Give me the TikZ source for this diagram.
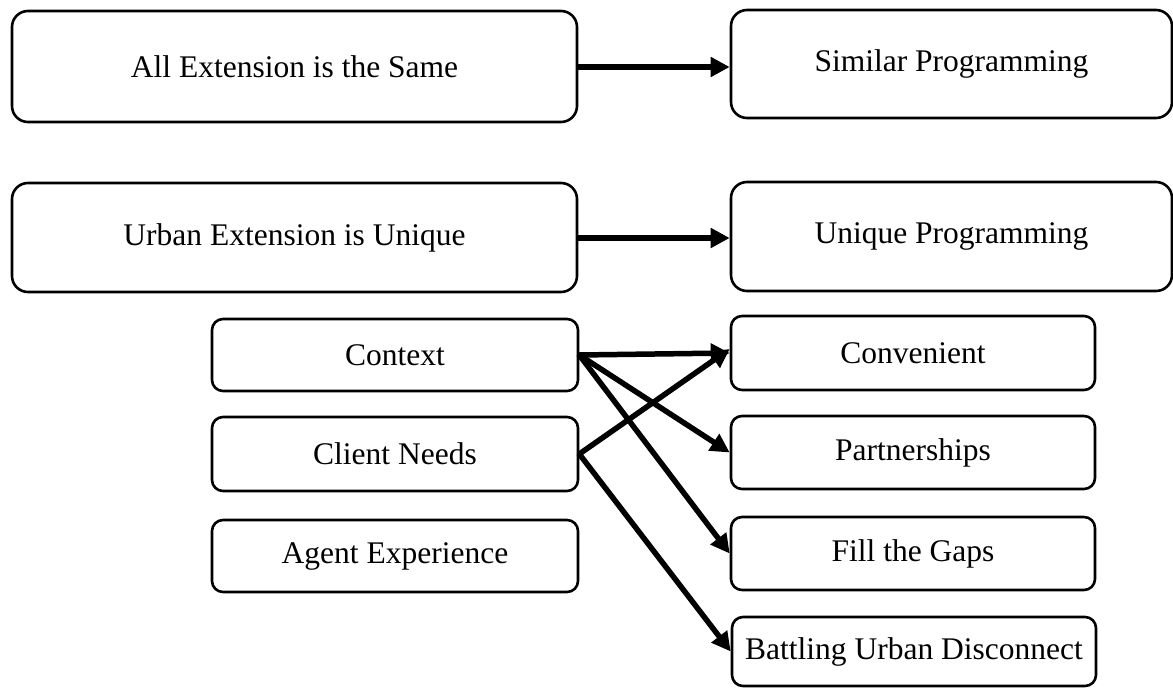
\documentclass[tikz,border=0pt]{standalone}
\usepackage{fontspec}
\setmainfont{Liberation Serif}
\usetikzlibrary{arrows.meta}
\begin{document}
\begin{tikzpicture}[x=1pt,y=-1pt,
  bigbox/.style={draw, line width=2.6pt, rounded corners=16pt, inner sep=0pt, font=\fontsize{31.5}{36}\selectfont},
  smallbox/.style={draw, line width=2.6pt, rounded corners=11pt, inner sep=0pt, font=\fontsize{31.5}{36}\selectfont},
  link/.style={line width=5.5pt, -{Triangle[length=19pt,width=19pt]}, shorten <=-1pt}
]
\fill[white] (0,0) rectangle (1173,688);
\useasboundingbox (0,0) rectangle (1173,688);
% big boxes
\node[bigbox, minimum width=565pt, minimum height=111pt] (all) at (294.5,66.5) {All Extension is the Same};
\node[bigbox, minimum width=441pt, minimum height=108pt] (sim) at (951.5,64) {Similar Programming};
\node[bigbox, minimum width=565pt, minimum height=109pt] (urb) at (294.5,237.5) {Urban Extension is Unique};
\node[bigbox, minimum width=441pt, minimum height=109pt] (uni) at (951.5,236.5) {Unique Programming};
% small left boxes
\node[smallbox, minimum width=366pt, minimum height=72pt] (ctx) at (395,355) {Context};
\node[smallbox, minimum width=366pt, minimum height=74pt] (cli) at (395,454) {Client Needs};
\node[smallbox, minimum width=366pt, minimum height=72pt] (age) at (395,556) {Agent Experience};
% small right boxes
\node[smallbox, minimum width=364pt, minimum height=74pt] (conv) at (913,353) {Convenient};
\node[smallbox, minimum width=364pt, minimum height=73pt] (part) at (913,452.5) {Partnerships};
\node[smallbox, minimum width=364pt, minimum height=73pt] (fill) at (913,553.5) {Fill the Gaps};
\node[smallbox, minimum width=364pt, minimum height=69pt] (bat) at (914,651.5) {Battling Urban Disconnect};
% connectors
\draw[link] (all.east |- 0,67) -- (sim.west |- 0,67);
\draw[link] (urb.east |- 0,238) -- (uni.west |- 0,238);
\draw[link] (ctx.east) -- (conv.west);
\draw[link] (ctx.east) -- (part.west);
\draw[link] (ctx.east) -- (fill.west);
\draw[link] (cli.east) -- ([yshift=4pt]conv.west);
\draw[link] (cli.east) -- (bat.west);
\end{tikzpicture}
\end{document}
